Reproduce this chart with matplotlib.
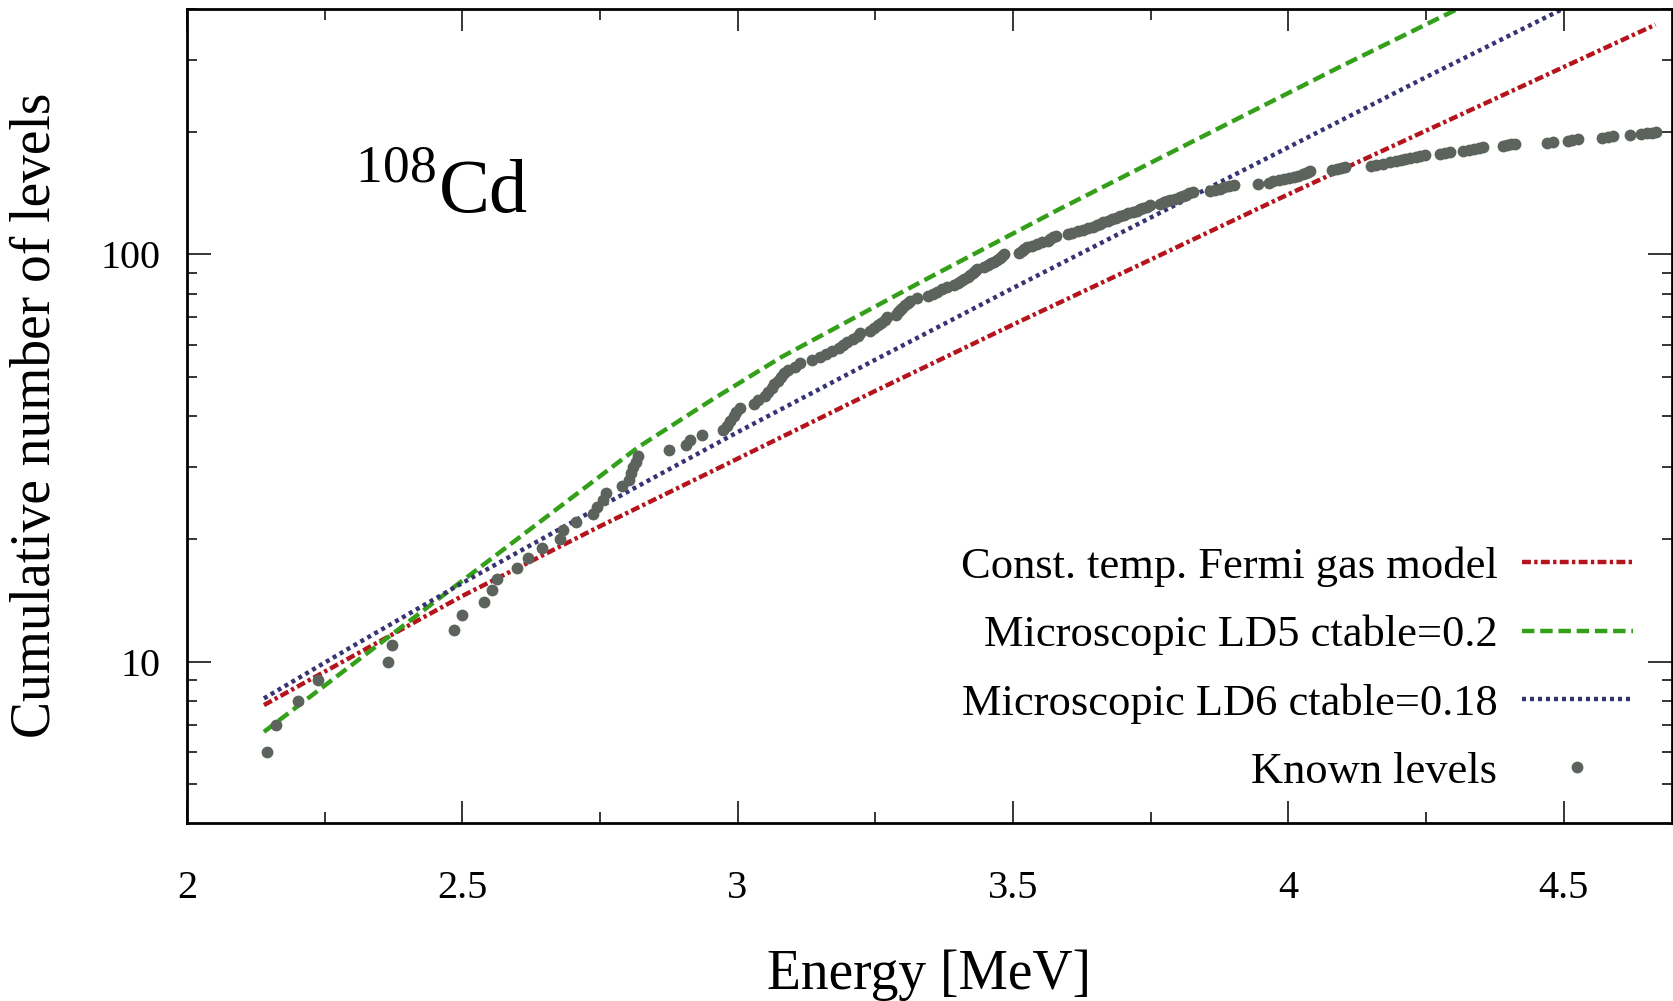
import numpy as np
import matplotlib
matplotlib.use('Agg')
import matplotlib.pyplot as plt
from matplotlib.ticker import FixedLocator, LogLocator, NullFormatter, FixedFormatter

plt.rcParams['font.family'] = ['Liberation Serif', 'DejaVu Serif']
plt.rcParams['mathtext.fontset'] = 'custom'
plt.rcParams['mathtext.rm'] = 'Liberation Serif'

# known levels: energy (MeV) of each level, cumulative count starts at 6
level_energy = [
    2.145, 2.162, 2.201, 2.238, 2.365, 2.373, 2.485, 2.499, 2.540, 2.555,
    2.564, 2.600, 2.620, 2.645, 2.677, 2.683, 2.707, 2.737, 2.745, 2.755,
    2.762, 2.791, 2.802, 2.806, 2.811, 2.815, 2.820, 2.876, 2.907, 2.913,
    2.935, 2.974, 2.981, 2.987, 2.993, 2.998, 3.005, 3.029, 3.038, 3.050,
    3.056, 3.062, 3.067, 3.073, 3.079, 3.085, 3.091, 3.105, 3.113, 3.135,
    3.150, 3.160, 3.172, 3.185, 3.192, 3.199, 3.210, 3.218, 3.223, 3.240,
    3.248, 3.255, 3.260, 3.268, 3.272, 3.287, 3.291, 3.295, 3.299, 3.305,
    3.310, 3.314, 3.326, 3.345, 3.355, 3.363, 3.372, 3.381, 3.393, 3.400,
    3.406, 3.411, 3.418, 3.423, 3.428, 3.432, 3.435, 3.447, 3.454, 3.460,
    3.466, 3.472, 3.477, 3.481, 3.484, 3.511, 3.516, 3.521, 3.526, 3.535,
    3.544, 3.553, 3.563, 3.568, 3.573, 3.578, 3.600, 3.607, 3.618, 3.628,
    3.637, 3.646, 3.652, 3.658, 3.664, 3.672, 3.680, 3.688, 3.695, 3.701,
    3.710, 3.719, 3.725, 3.731, 3.737, 3.743, 3.749, 3.768, 3.774, 3.780,
    3.786, 3.795, 3.804, 3.809, 3.814, 3.819, 3.828, 3.858, 3.867, 3.876,
    3.884, 3.892, 3.901, 3.946, 3.965, 3.973, 3.983, 3.993, 4.002, 4.010,
    4.018, 4.026, 4.032, 4.036, 4.040, 4.080, 4.088, 4.096, 4.104, 4.150,
    4.160, 4.173, 4.185, 4.195, 4.205, 4.212, 4.222, 4.232, 4.240, 4.248,
    4.275, 4.285, 4.294, 4.318, 4.328, 4.338, 4.346, 4.354, 4.390, 4.398,
    4.405, 4.412, 4.470, 4.481, 4.508, 4.516, 4.527, 4.570, 4.580, 4.590,
    4.621, 4.640, 4.652, 4.660, 4.668,
]
level_count = np.arange(6, 6 + len(level_energy))

# model curves
ct_energy = [2.14, 2.30, 2.50, 2.75, 3.00, 3.25, 3.50, 3.75, 4.00, 4.25, 4.50, 4.667]
ct_count = [7.83, 10.3, 14.5, 21.5, 31.5, 46.2, 67.2, 97.0, 140.3, 201, 288, 366]

ld5_energy = [2.14, 2.48, 2.82, 2.95, 3.08, 3.33, 3.586, 3.85, 4.094, 4.309, 4.35]
ld5_count = [6.73, 15.07, 33.65, 43.65, 55.98, 85.1, 129.4, 196.3, 288.4, 400.9, 426.6]

ld6_energy = [2.14, 2.30, 2.50, 2.75, 3.00, 3.25, 3.50, 3.75, 4.00, 4.25, 4.50, 4.55]
ld6_count = [8.13, 10.9, 15.6, 24.0, 36.6, 55.1, 82.6, 123, 183, 272, 401, 434]

x_ticks = [2, 2.5, 3, 3.5, 4, 4.5]
x_ticklabels = ['2', '2.5', '3', '3.5', '4', '4.5']

fig = plt.figure(figsize=(16.73, 10.01), dpi=100)
ax = fig.add_axes([0.1117, 0.1782, 0.8877, 0.8133])

lw = 3.2
ax.plot(ct_energy, ct_count, color='#b5141c', lw=lw, dashes=(2.0, 0.75, 0.75, 0.75),
        label='Const. temp. Fermi gas model')
ax.plot(ld5_energy, ld5_count, color='#34a01a', lw=lw, dashes=(2.8, 1.3),
        label='Microscopic LD5 ctable=0.2')
ax.plot(ld6_energy, ld6_count, color='#383474', lw=lw, dashes=(0.9, 0.9),
        label='Microscopic LD6 ctable=0.18')
ax.plot(level_energy, level_count, 'o', color='#5c625c', ms=8.5, mew=0,
        label='Known levels')

ax.set_yscale('log')
ax.set_xlim(2, 4.697)
ax.set_ylim(4.03, 401)

ax.xaxis.set_major_locator(FixedLocator(x_ticks))
ax.xaxis.set_major_formatter(FixedFormatter(x_ticklabels))
ax.xaxis.set_minor_locator(FixedLocator([2.25, 2.75, 3.25, 3.75, 4.25]))
ax.yaxis.set_major_locator(FixedLocator([10, 100]))
ax.yaxis.set_major_formatter(FixedFormatter(['10', '100']))
ax.yaxis.set_minor_locator(LogLocator(base=10, subs=np.arange(2, 10)))
ax.yaxis.set_minor_formatter(NullFormatter())

ax.tick_params(which='both', direction='in', top=True, right=True, width=1.1)
ax.tick_params(axis='x', which='major', length=16, pad=34, labelsize=29)
ax.tick_params(axis='x', which='minor', length=8)
ax.tick_params(axis='y', which='major', length=17, pad=19, labelsize=29)
ax.tick_params(axis='y', which='minor', length=7)
for s in ax.spines.values():
    s.set_linewidth(2.0)

ax.set_xlabel('Energy [MeV]', fontsize=40, labelpad=30)
ax.set_ylabel('Cumulative number of levels', fontsize=40, labelpad=28)

ax.text(2.305, 126, r'$^{108}\mathrm{Cd}$', fontsize=55, va='baseline', ha='left')

ax.legend(loc='lower right', bbox_to_anchor=(0.9737, 0.0376), frameon=False,
          markerfirst=False, fontsize=32, handlelength=2.5, handletextpad=0.55,
          labelspacing=0.63, borderpad=0, borderaxespad=0, numpoints=1)

fig.savefig('out.png', dpi=100)
